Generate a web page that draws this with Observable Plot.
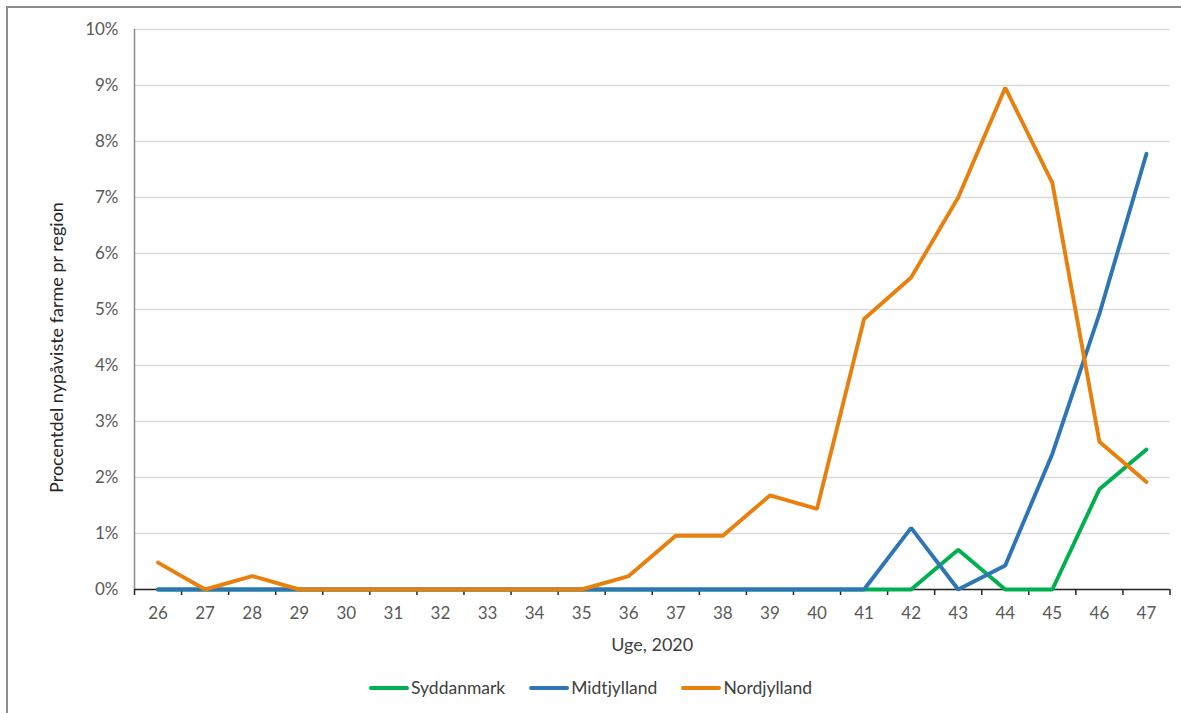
<!DOCTYPE html>
<html>
<head>
<meta charset="utf-8">
<script src="https://cdn.jsdelivr.net/npm/d3@7"></script>
<script src="https://cdn.jsdelivr.net/npm/@observablehq/plot@0.6"></script>
<style>
  html, body { margin: 0; padding: 0; background: #fff; }
  body { width: 1181px; height: 713px; position: relative; overflow: hidden; font-family: Lato, "Open Sans", sans-serif; }
  #frame { position: absolute; left: 6px; top: 6px; right: 0; bottom: 0; border-left: 2px solid #8c8c8c; border-top: 2px solid #8c8c8c; }
  #chart { position: absolute; left: 0; top: 0; }
  #legend { position: absolute; left: 0; top: 677px; width: 1181px; display: flex; justify-content: center; font-size: 17.5px; color: #404040; }
  .item { display: flex; align-items: center; margin: 0 12px; }
  .sw { width: 40px; height: 4px; border-radius: 2px; margin-right: 2px; }
</style>
</head>
<body>
<div id="frame"></div>
<div id="chart"></div>
<div id="legend"></div>
<script>
const weeks = [26,27,28,29,30,31,32,33,34,35,36,37,38,39,40,41,42,43,44,45,46,47];
const seriesNames = ["Syddanmark", "Midtjylland", "Nordjylland"];
const seriesColors = ["#00B050", "#2E75B6", "#E8800E"];
const syddanmark  = [0,0,0,0,0,0,0,0,0,0,0,0,0,0,0,0,0,0.71,0,0,1.79,2.50];
const midtjylland = [0,0,0,0,0,0,0,0,0,0,0,0,0,0,0,0,1.10,0,0.43,2.42,4.92,7.78];
const nordjylland = [0.48,0,0.24,0,0,0,0,0,0,0,0.24,0.96,0.96,1.68,1.44,4.83,5.57,7.00,8.96,7.26,2.64,1.92];
const yTicks = [0,1,2,3,4,5,6,7,8,9,10];

const seriesValues = [syddanmark, midtjylland, nordjylland];
const rows = [];
seriesNames.forEach((name, si) => {
  weeks.forEach((w, i) => rows.push({series: name, week: w, value: seriesValues[si][i] / 100}));
});
const boundaries = [weeks[0] - 0.5, ...weeks.map(w => w + 0.5)];

const chart = Plot.plot({
  width: 1181,
  height: 660,
  marginLeft: 134,
  marginRight: 11.5,
  marginTop: 29,
  marginBottom: 71,
  style: {fontFamily: "Lato, 'Open Sans', sans-serif", fontSize: "17px", color: "#595959", background: "transparent"},
  x: {domain: [boundaries[0], boundaries[boundaries.length - 1]]},
  y: {domain: [0, 0.10]},
  color: {domain: seriesNames, range: seriesColors},
  marks: [
    Plot.gridY(yTicks.map(t => t / 100), {stroke: "#d9d9d9", strokeOpacity: 1, strokeWidth: 1.5}),
    Plot.axisY(yTicks.map(t => t / 100), {tickFormat: d3.format(".0%"), tickSize: 0, tickPadding: 16, fill: "#595959", fontSize: 17, label: null}),
    Plot.axisX(weeks, {tickSize: 0, tickPadding: 17, tickFormat: d => String(d), fill: "#595959", fontSize: 17, label: null}),
    Plot.axisX(boundaries, {tickSize: 6, tickFormat: () => "", stroke: "#262626", strokeWidth: 1.5, label: null}),
    Plot.ruleX([boundaries[0]], {stroke: "#8c8c8c", strokeWidth: 1.5}),
    Plot.ruleY([0], {stroke: "#262626", strokeWidth: 1.5}),
    Plot.line(rows, {x: "week", y: "value", z: "series", stroke: "series", strokeWidth: 3.9, strokeLinejoin: "miter", strokeLinecap: "round"}),
    Plot.text(["Uge, 2020"], {frameAnchor: "bottom", lineAnchor: "middle", dy: 56, fontSize: 18, fill: "#404040", text: d => d}),
    Plot.text(["Procentdel nypåviste farme pr region"], {frameAnchor: "left", textAnchor: "middle", lineAnchor: "middle", dx: -77, dy: 38, rotate: -90, fontSize: 18, fill: "#262626", text: d => d})
  ]
});
document.getElementById("chart").appendChild(chart);

const legend = document.getElementById("legend");
seriesNames.forEach((name, i) => {
  const item = document.createElement("div");
  item.className = "item";
  const sw = document.createElement("div");
  sw.className = "sw";
  sw.style.background = seriesColors[i];
  const label = document.createElement("span");
  label.textContent = name;
  item.appendChild(sw);
  item.appendChild(label);
  legend.appendChild(item);
});
</script>
</body>
</html>
